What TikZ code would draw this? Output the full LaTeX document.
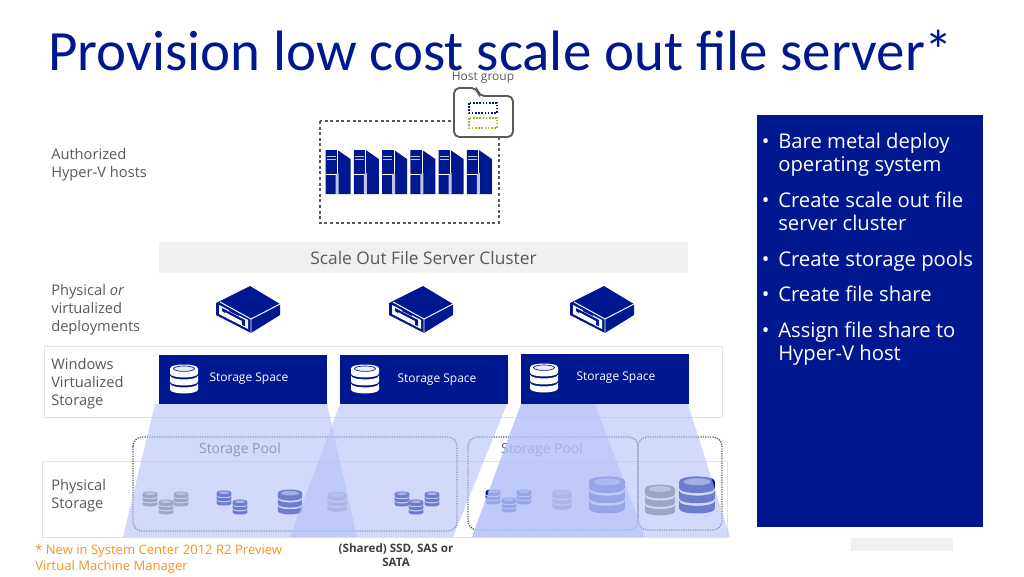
\documentclass[tikz,border=0pt]{standalone}
\usepackage{fontspec}
\setmainfont{Open Sans}
\newfontfamily\titlefont{Carlito}
\usetikzlibrary{positioning}
\definecolor{navy}{HTML}{00188F}
\definecolor{labelgray}{HTML}{595959}
\definecolor{rulegray}{HTML}{E3E3E3}
\definecolor{bargray}{HTML}{F0F0F0}
\definecolor{diskgray}{HTML}{7F7F7F}
\definecolor{beamblue}{RGB}{180,193,248}
\definecolor{noteorange}{HTML}{F7941D}
\definecolor{groupgreen}{HTML}{9BBB2F}
\newcommand{\itemdot}{\llap{\textbullet\hspace{6.5pt}}}
\tikzset{
  sidelabel/.style = {anchor=north west, align=left, inner sep=0pt, text=labelgray,
    font=\fontsize{11}{13.5}\selectfont},
  spacebox/.style = {fill=navy, inner sep=0pt, minimum width=126pt, minimum height=37pt},
  spacetext/.style = {text=white, inner sep=0pt, font=\fontsize{9}{11}\selectfont},
  layerbox/.style = {draw=rulegray, fill=white, line width=.7pt},
  poolframe/.style = {draw=black!65, rounded corners=7pt, line width=1pt,
    dash pattern=on .9pt off .9pt},
  hostframe/.style = {draw=black!65, line width=2.2pt, dash pattern=on 2.2pt off 2pt},
  beam/.style = {fill=beamblue, fill opacity=.6},
  panelitem/.style = {anchor=north west, align=left, inner sep=0pt, text=white,
    font=\fontsize{15.2}{17.2}\selectfont},
  disktop/.style = {fill=white, fill opacity=.55},
  spacetop/.style = {draw=navy, line width=.5pt, fill=navy!8},
  pics/towerunit/.style = {code={
    \fill[navy] (0,0) -- (12,0) -- (25,9) -- (25,44) -- (0,44) -- cycle;
    \draw[white, line width=.6pt] (12,0) -- (12,23);
    \fill[white!75!navy] (10,24) -- (13,23) -- (13,44) -- (10,44) -- cycle;
    \draw[white!75!navy, line width=.5pt] (1,6) -- (10,6) (1,9) -- (10,9);
    \draw[white, line width=.5pt] (0,24) -- (10,24);
  }},
  pics/rackunit/.style = {code={
    \fill[navy] (0,-23) -- (30,-5) -- (30,6) -- (1,24) -- (-34,6) -- (-34,-6) -- cycle;
    \draw[white, line width=.7pt] (-30,-7) -- (1,10) -- (30,-5) (1,10) -- (1,24);
    \fill[white] (-31,-4) -- (-2,11) -- (-2,20) -- (-31,5) -- cycle;
    \fill[navy] (-28,-1) -- (-5,11) -- (-5,17) -- (-8,16) -- (-8,12) -- (-25,3) -- (-25,4) -- (-28,2) -- cycle;
    \fill[navy] (-21,0) -- (-11,5) -- (-11,7) -- (-21,2) -- cycle;
  }},
  pics/diskstack/.style n args = {2}{code={
    \begin{scope}[yshift=10.9pt]
      \fill[#1] (-14,4) -- (-14,9) .. controls (-14,14.3) and (14,14.3) .. (14,9) -- (14,4)
        .. controls (14,-1.3) and (-14,-1.3) .. (-14,4) -- cycle;
      \foreach \s in {11,19}
        \fill[#1] (-14,\s) -- (-14,\s+6) .. controls (-14,\s+11.3) and (14,\s+11.3) .. (14,\s+6)
          -- (14,\s) .. controls (14,\s+5.3) and (-14,\s+5.3) .. (-14,\s) -- cycle;
      \path[#2] (0,4.2) ellipse (10.5 and 2.7);
    \end{scope}
  }}
}
\begin{document}
\begin{tikzpicture}[x=.75pt, y=-.75pt]
\useasboundingbox (0,0) rectangle (1024,576);

\node[anchor=base west, inner sep=0pt, text=navy, font=\titlefont\fontsize{42.7}{50}\selectfont]
  (title) at (48,70) {Provision low cost scale out file server*};

% hosts
\draw[hostframe] (320,121) rectangle (499,223);
\foreach \x in {325.5,353.8,382,410.3,438.5,466.8}
  \pic at (\x,150) {towerunit};
\node[inner sep=0pt, text=labelgray, font=\fontsize{9}{11}\selectfont] (hostgroup) at (483,78) {Host group};
\draw[draw=black!65, fill=white, line width=1.4pt, rounded corners=4pt]
  (454,137) -- (454,88) -- (477,88) -- (479,96) -- (513,96) -- (513,137) -- cycle;
\draw[navy, line width=1.2pt, dash pattern=on 1.2pt off 1.2pt] (469,103) rectangle (497,113);
\draw[groupgreen, line width=1.2pt, dash pattern=on 1.2pt off 1.2pt] (469,118) rectangle (497,128);
\node[sidelabel] (authorized) at (51,148) {Authorized\\Hyper-V hosts};

% cluster
\node[fill=bargray, minimum width=397pt, minimum height=23pt, inner sep=0pt, text=labelgray,
  font=\fontsize{13}{16}\selectfont] (cluster) at (423.5,257.5) {Scale Out File Server Cluster};
\node[sidelabel] (physical) at (51,284) {Physical \textit{or}\\virtualized\\deployments};
\pic at (250,309) {rackunit};
\pic at (423,309) {rackunit};
\pic at (604,309) {rackunit};

% layers
\draw[layerbox] (44,346) rectangle (722,417);
\node[sidelabel] (windows) at (51,358) {Windows\\Virtualized\\Storage};
\draw[layerbox] (42,461) rectangle (727,537);
\node[sidelabel] (storage) at (51,479) {Physical\\Storage};

% pools
\draw[poolframe] (133,437) rectangle (457,531);
\draw[poolframe] (468,437) rectangle (638,530);
\draw[poolframe] (638,437) rectangle (722,530);
\node[inner sep=0pt, text=labelgray, font=\fontsize{10.4}{13}\selectfont] (pool1) at (240,450) {Storage Pool};
\node[inner sep=0pt, text=labelgray, font=\fontsize{10.4}{13}\selectfont] (pool2) at (542,450) {Storage Pool};

\foreach \x/\y/\c in {150/499/diskgray,166/507/diskgray,181/499/diskgray,
    224/498/navy,240/507/navy,402/499/navy,416/507/navy,432/499/navy,
    493/497/navy,509/505/navy,524/497/navy}
  \pic[scale=.52] at (\x,\y) {diskstack={\c}{disktop}};
\pic[scale=.86] at (290,502) {diskstack={navy}{disktop}};
\pic[scale=.68] at (337,502) {diskstack={diskgray}{disktop}};
\pic[scale=.68] at (562,500) {diskstack={diskgray}{disktop}};
\pic[scale=1.28] at (607,495) {diskstack={navy}{disktop}};
\pic[scale=1.07] at (660,500) {diskstack={diskgray}{disktop}};
\pic[scale=1.28] at (697,495) {diskstack={navy}{disktop}};

% beams
\fill[beam] (155,404) -- (327,404) -- (357,537) -- (123,537) -- cycle;
\fill[beam] (340,404) -- (507,404) -- (453,537) -- (290,537) -- cycle;
\fill[beam] (521,404) -- (688,404) -- (730,537) -- (472,537) -- cycle;
\fill[beam] (521,404) -- (595,404) -- (645,537) -- (472,537) -- cycle;

% spaces
\node[spacebox] (space1) at (243,379.5) {};
\node[spacebox] (space2) at (423.5,379.5) {};
\node[spacebox, minimum height=37.5pt] (space3) at (604.5,379) {};
\pic at (184,379) {diskstack={white}{spacetop}};
\pic at (365,379) {diskstack={white}{spacetop}};
\pic at (544,378) {diskstack={white}{spacetop}};
\node[spacetext] (spacetext1) at (249,379) {Storage Space};
\node[spacetext] (spacetext2) at (437,380) {Storage Space};
\node[spacetext] (spacetext3) at (616,378) {Storage Space};

% notes
\node[anchor=north west, align=left, inner sep=0pt, text=noteorange, font=\fontsize{9.8}{12}\selectfont]
  (note) at (35,544) {* New in System Center 2012 R2 Preview\\Virtual Machine Manager};
\node[align=center, inner sep=0pt, text=labelgray!70!black, font=\bfseries\fontsize{8.7}{10.5}\selectfont]
  (shared) at (396,555) {(Shared) SSD, SAS or\\SATA};

% panel
\node[anchor=north west, fill=navy, minimum width=169.5pt, minimum height=309pt, inner sep=0pt]
  (panel) at (757,115) {};
\node[panelitem] (item1) at (778,133) {\itemdot Bare metal deploy\\operating system};
\node[panelitem] (item2) at (778,192) {\itemdot Create scale out file\\server cluster};
\node[panelitem] (item3) at (778,251) {\itemdot Create storage pools};
\node[panelitem] (item4) at (778,286) {\itemdot Create file share};
\node[panelitem] (item5) at (778,322) {\itemdot Assign file share to\\Hyper-V host};
\node[anchor=north west, fill=bargray, minimum width=76.5pt, minimum height=9.5pt, inner sep=0pt]
  (tag) at (851,538) {};
\end{tikzpicture}
\end{document}
